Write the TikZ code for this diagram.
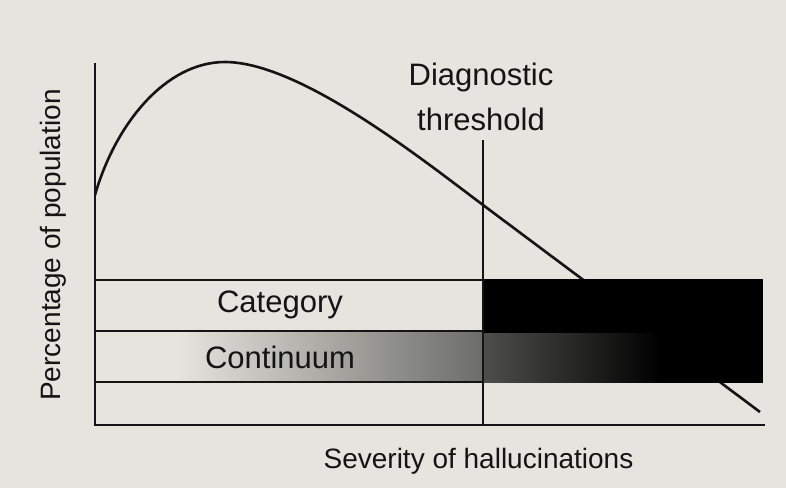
\documentclass[tikz,border=0pt]{standalone}
\usepackage{fontspec}
\setmainfont{Liberation Sans}
\definecolor{bg}{RGB}{229,228,222}
\definecolor{ink}{RGB}{20,20,20}
\definecolor{midgrayL}{RGB}{108,108,104}
\definecolor{midgrayR}{RGB}{78,78,76}
\begin{document}
\begin{tikzpicture}[x=1pt,y=-1pt,
  axislab/.style={font=\fontsize{28}{32}\selectfont, text=ink, inner sep=0pt},
  lab/.style={font=\fontsize{31}{36}\selectfont, text=ink, inner sep=0pt},
  rule/.style={draw=ink, line width=2.6pt}]
\fill[bg] (0,0) rectangle (786,488);
\useasboundingbox (0,0) rectangle (786,488);
% distribution curve
\draw[rule, line join=round] (95,195) .. controls (115,125) and (165,62) .. (225,62)
   .. controls (300,62) and (423,160) .. (483,205) -- (760,412);
% continuum gradient
\shade[left color=bg, right color=midgrayL] (178,331) rectangle (483.5,382.5);
\shade[left color=midgrayR, right color=black] (483,331) rectangle (661,382.5);
\fill[black] (658,331) rectangle (763,382.5);
% category black box
\fill[black] (483,279) rectangle (763,333);
% band lines
\draw[rule] (95,280) -- (483,280);
\draw[rule] (95,331) -- (483,331);
\draw[rule] (95,382) -- (483,382);
% threshold
\coordinate (thtop) at (483,140);
\coordinate (thbot) at (483,425);
\draw[rule] (thtop) -- (thbot);
% axes
\coordinate (ytop) at (95,63);
\coordinate (origin) at (95,425);
\coordinate (xend) at (765,425);
\draw[rule, line cap=butt] (ytop) -- (origin) -- (xend);
% labels
\node[lab, anchor=base] (diag) at (481,85) {Diagnostic};
\node[lab, anchor=base] (thr) at (481,130) {threshold};
\node[lab, anchor=base] (cat) at (280,312) {Category};
\node[lab, anchor=base] (cont) at (280,368) {Continuum};
\node[axislab, anchor=base] (xlab) at (478.5,468) {Severity of hallucinations};
\node[axislab, anchor=base, rotate=90] (ylab) at (60,245) {Percentage of population};
\end{tikzpicture}
\end{document}
